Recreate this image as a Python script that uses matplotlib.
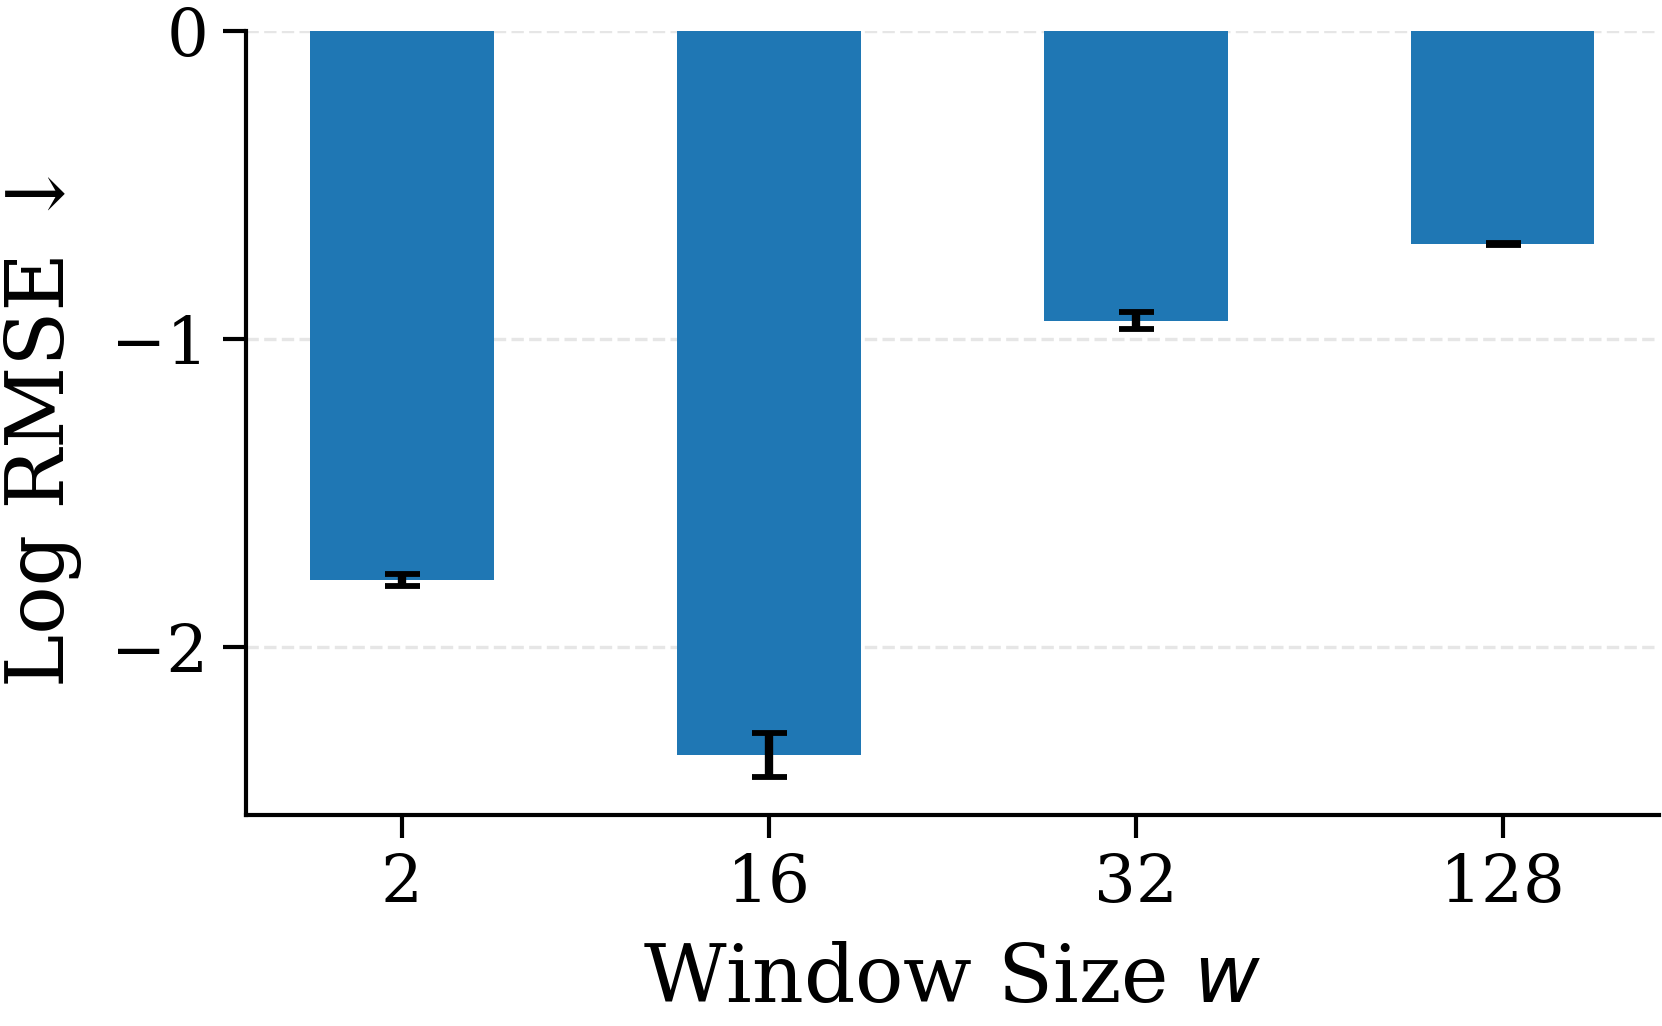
import matplotlib
matplotlib.use("Agg")
import matplotlib.pyplot as plt
import numpy as np

# values
window_sizes = ["2", "16", "32", "128"]
log_rmse = [-1.783, -2.352, -0.941, -0.692]
log_rmse_err = [0.02, 0.072, 0.027, 0.004]

plt.rcParams["font.family"] = ["DejaVu Serif", "DejaVu Sans"]
plt.rcParams["mathtext.fontset"] = "dejavusans"

fig = plt.figure(figsize=(5.54, 3.42), dpi=300)
ax = fig.add_axes([0.148, 0.206, 0.850, 0.764])

x = np.arange(len(window_sizes))
ax.bar(x, log_rmse, width=0.5, color="#1f77b4", zorder=2)
ax.errorbar(x, log_rmse, yerr=log_rmse_err, fmt="none", ecolor="black",
            elinewidth=2, capsize=4.2, capthick=1.4, zorder=3)

ax.set_xticks(x)
ax.set_xticklabels(window_sizes)
ax.set_yticks([0, -1, -2])
ax.set_yticklabels(["0", "\u22121", "\u22122"])
ax.tick_params(labelsize=15.8, length=5.5, width=1)

ax.set_xlabel("Window Size $w$", fontsize=19.3, labelpad=6)
ax.set_ylabel("Log RMSE \u2193", fontsize=19.3, labelpad=7)

ax.yaxis.grid(True, linestyle="--", color="#e6e6e6", linewidth=0.8, zorder=0)
ax.set_axisbelow(True)
ax.spines["top"].set_visible(False)
ax.spines["right"].set_visible(False)
for s in ("left", "bottom"):
    ax.spines[s].set_linewidth(1)

fig.savefig("out.png", dpi=300)
